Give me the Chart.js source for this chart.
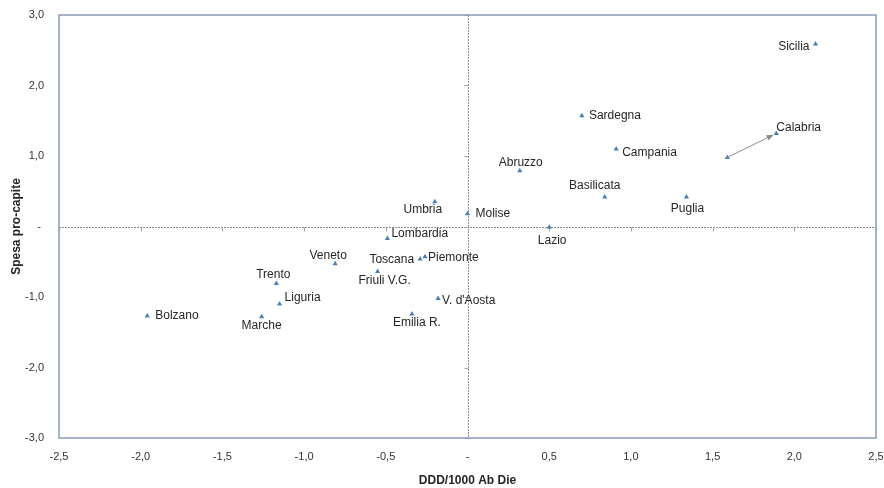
<!DOCTYPE html>
<html>
<head>
<meta charset="utf-8">
<title>Spesa pro-capite / DDD per regione</title>
<script src="https://cdn.jsdelivr.net/npm/chart.js@4.4.0/dist/chart.umd.min.js"></script>
<style>
  html, body { margin: 0; padding: 0; background: #fff; }
  #wrap { width: 884px; height: 488px; }
</style>
</head>
<body>
<div id="wrap"><canvas id="scatter"></canvas></div>
<script>
// regions: DDD/1000 ab die (x) vs spesa pro-capite (y), standardised values
const regions = ['Sicilia', 'Sardegna', 'Calabria', 'Campania', 'Abruzzo', 'Basilicata', 'Puglia',
  'Umbria', 'Molise', 'Lazio', 'Lombardia', 'Veneto', 'Toscana', 'Piemonte', 'Friuli V.G.',
  "V. d'Aosta", 'Emilia R.', 'Bolzano', 'Trento', 'Liguria', 'Marche'];
const ddd = [2.13, 0.70, 1.89, 0.91, 0.32, 0.84, 1.34,
  -0.20, 0.00, 0.50, -0.49, -0.81, -0.29, -0.26, -0.55,
  -0.18, -0.34, -1.96, -1.17, -1.15, -1.26];
const spesa = [2.59, 1.57, 1.32, 1.10, 0.79, 0.42, 0.42,
  0.35, 0.18, -0.01, -0.17, -0.53, -0.46, -0.43, -0.64,
  -1.02, -1.24, -1.27, -0.81, -1.10, -1.28];

// Calabria, earlier position (arrow start)
const calabriaPrevX = [1.59];
const calabriaPrevY = [0.98];

const xRange = [-2.5, 2.5];
const yRange = [-3, 3];

const MARKER = '#4a7ebb';
const FRAME = '#8a9bb5';
const AXIS_TXT = '#333333';

// label placement around each marker: [dx, dy, textAlign]
const labelPos = {
  'Sicilia': [-6, 3, 'right'],
  'Sardegna': [7, 0, 'left'],
  'Calabria': [0, -6, 'left'],
  'Campania': [6, 4, 'left'],
  'Abruzzo': [1, -8, 'center'],
  'Basilicata': [-10, -11, 'center'],
  'Puglia': [1, 12, 'center'],
  'Umbria': [-12, 8, 'center'],
  'Molise': [8, 0, 'left'],
  'Lazio': [3, 13, 'center'],
  'Lombardia': [4, -5, 'left'],
  'Veneto': [-7, -8, 'center'],
  'Toscana': [-6, 1, 'right'],
  'Piemonte': [3, 1, 'left'],
  'Friuli V.G.': [7, 9, 'center'],
  "V. d'Aosta": [4, 2, 'left'],
  'Emilia R.': [5, 9, 'center'],
  'Bolzano': [8, 0, 'left'],
  'Trento': [-3, -9, 'center'],
  'Liguria': [5, -6, 'left'],
  'Marche': [0, 9, 'center']
};

function fmt(v) {
  if (Math.abs(v) < 1e-9) return '-';
  return v.toFixed(1).replace('.', ',');
}

const quadrantPlugin = {
  id: 'quadrant',
  beforeDatasetsDraw(chart) {
    const { ctx, chartArea: a, scales: { x, y } } = chart;
    const x0 = Math.round(x.getPixelForValue(0)) + 0.5;
    const y0 = Math.round(y.getPixelForValue(0)) + 0.5;
    ctx.save();
    // dashed zero lines
    ctx.strokeStyle = '#8c8c8c';
    ctx.lineWidth = 1;
    ctx.setLineDash([2, 1]);
    ctx.beginPath();
    ctx.moveTo(a.left, y0); ctx.lineTo(a.right, y0);
    ctx.moveTo(x0, a.top); ctx.lineTo(x0, a.bottom);
    ctx.stroke();
    // small tick marks along the zero lines
    ctx.setLineDash([]);
    ctx.strokeStyle = '#a6a6a6';
    ctx.beginPath();
    x.ticks.forEach(t => {
      const px = Math.round(x.getPixelForValue(t.value)) + 0.5;
      ctx.moveTo(px, y0); ctx.lineTo(px, y0 + 4);
    });
    y.ticks.forEach(t => {
      const py = Math.round(y.getPixelForValue(t.value)) + 0.5;
      ctx.moveTo(x0 - 4, py); ctx.lineTo(x0, py);
    });
    ctx.stroke();
    ctx.restore();
  },
  afterDatasetsDraw(chart) {
    const { ctx, chartArea: a, scales: { x, y } } = chart;
    ctx.save();
    // plot frame
    ctx.strokeStyle = FRAME;
    ctx.lineWidth = 1.5;
    ctx.strokeRect(a.left, a.top, a.right - a.left, a.bottom - a.top);

    // arrow from the earlier Calabria position to the current one
    const i = regions.indexOf('Calabria');
    const sx = x.getPixelForValue(calabriaPrevX[0]);
    const sy = y.getPixelForValue(calabriaPrevY[0]);
    const ex = x.getPixelForValue(ddd[i]);
    const ey = y.getPixelForValue(spesa[i]);
    const ang = Math.atan2(ey - sy, ex - sx);
    const tipX = ex - Math.cos(ang) * 3, tipY = ey - Math.sin(ang) * 3;
    const head = 7, half = 3;
    const bx = tipX - Math.cos(ang) * head, by = tipY - Math.sin(ang) * head;
    ctx.strokeStyle = '#8c8c8c';
    ctx.fillStyle = '#8c8c8c';
    ctx.lineWidth = 1;
    ctx.beginPath();
    ctx.moveTo(sx, sy); ctx.lineTo(bx, by);
    ctx.stroke();
    ctx.beginPath();
    ctx.moveTo(tipX, tipY);
    ctx.lineTo(bx - Math.sin(ang) * half, by + Math.cos(ang) * half);
    ctx.lineTo(bx + Math.sin(ang) * half, by - Math.cos(ang) * half);
    ctx.closePath();
    ctx.fill();

    // region labels
    ctx.font = '12px "Liberation Sans", Arial, sans-serif';
    ctx.fillStyle = '#262626';
    ctx.textBaseline = 'middle';
    regions.forEach((name, k) => {
      const p = labelPos[name];
      ctx.textAlign = p[2];
      ctx.fillText(name, x.getPixelForValue(ddd[k]) + p[0], y.getPixelForValue(spesa[k]) + p[1]);
    });
    ctx.restore();
  }
};

new Chart(document.getElementById('scatter'), {
  type: 'scatter',
  data: {
    datasets: [{
      label: 'Regioni',
      data: regions.map((r, k) => ({ x: ddd[k], y: spesa[k] })),
      backgroundColor: MARKER,
      borderColor: MARKER,
      borderWidth: 0,
      pointStyle: 'triangle',
      pointRadius: 3
    }, {
      label: 'Calabria (prec.)',
      data: calabriaPrevX.map((v, k) => ({ x: v, y: calabriaPrevY[k] })),
      backgroundColor: MARKER,
      borderColor: MARKER,
      borderWidth: 0,
      pointStyle: 'triangle',
      pointRadius: 3
    }]
  },
  options: {
    responsive: true,
    maintainAspectRatio: false,
    animation: false,
    layout: { padding: { top: 15, right: 8, bottom: 0, left: 0 } },
    plugins: {
      legend: { display: false },
      tooltip: { enabled: false }
    },
    scales: {
      x: {
        type: 'linear',
        min: xRange[0],
        max: xRange[1],
        grid: { display: false },
        border: { display: false },
        ticks: {
          stepSize: 0.5,
          padding: 4,
          color: AXIS_TXT,
          font: { family: '"Liberation Sans", Arial, sans-serif', size: 11 },
          callback: v => fmt(v),
          maxRotation: 0,
          autoSkip: false
        },
        title: {
          display: true,
          text: 'DDD/1000 Ab Die',
          color: '#262626',
          font: { family: '"Liberation Sans", Arial, sans-serif', size: 12, weight: 'bold' },
          padding: { top: 0, bottom: 0 }
        },
        afterFit(scale) {
          scale.height = 50;
          scale.paddingLeft = 0;
          scale.paddingRight = 0;
        }
      },
      y: {
        type: 'linear',
        min: yRange[0],
        max: yRange[1],
        grid: { display: false },
        border: { display: false },
        ticks: {
          stepSize: 1,
          padding: 7,
          color: AXIS_TXT,
          font: { family: '"Liberation Sans", Arial, sans-serif', size: 11 },
          callback: v => (Math.abs(v) < 1e-9 ? '- ' : fmt(v))
        },
        title: {
          display: true,
          text: 'Spesa pro-capite',
          color: '#262626',
          font: { family: '"Liberation Sans", Arial, sans-serif', size: 12, weight: 'bold' },
          padding: { top: 9, bottom: 0 }
        },
        afterFit(scale) {
          scale.width = 59;
          scale.paddingTop = 0;
          scale.paddingBottom = 0;
        }
      }
    }
  },
  plugins: [quadrantPlugin]
});
</script>
</body>
</html>
